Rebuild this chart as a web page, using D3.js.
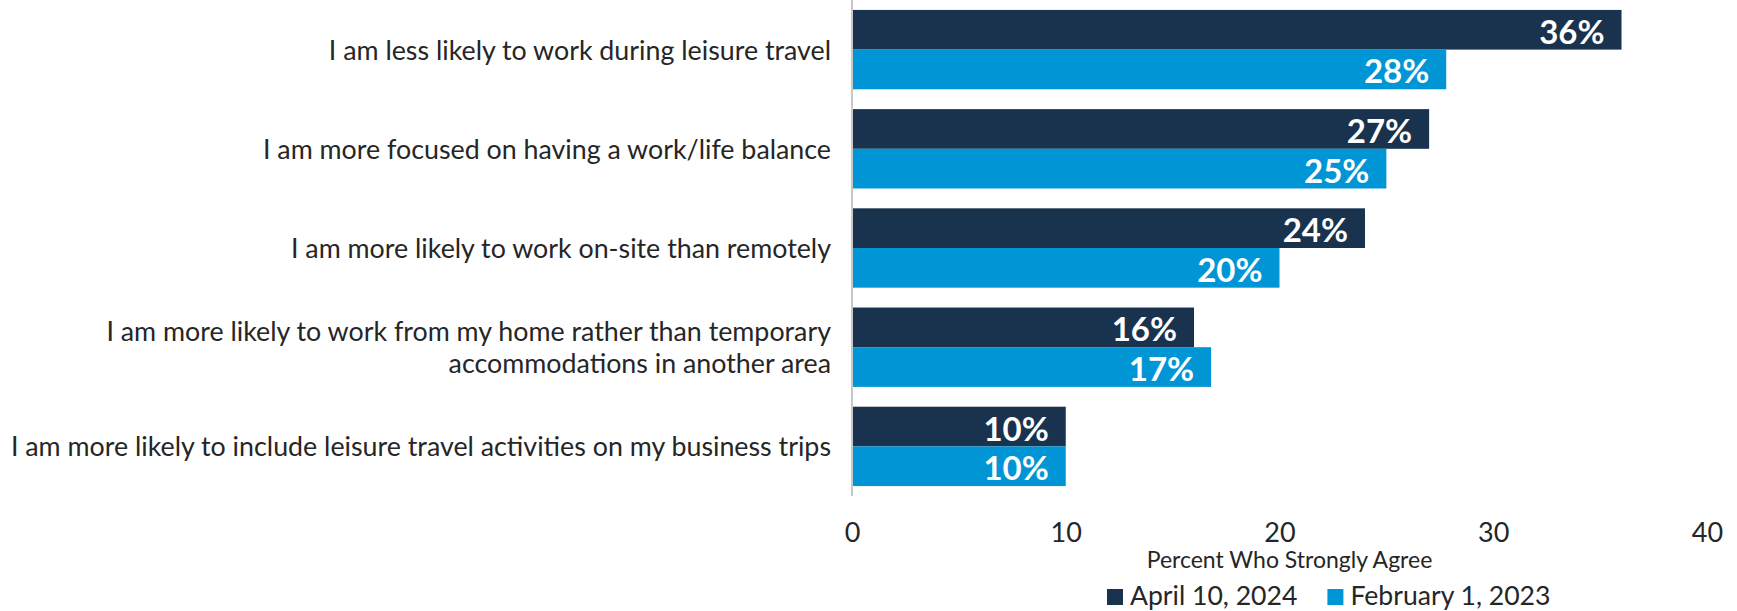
<!DOCTYPE html>
<html>
<head>
<meta charset="utf-8">
<script src="https://cdn.jsdelivr.net/npm/d3@7"></script>
<style>
  html, body { margin: 0; padding: 0; background: #fff; }
  svg { display: block; font-family: Lato, "Open Sans", sans-serif; }
</style>
</head>
<body>
<svg id="chart" width="1737" height="611"></svg>
<script>
// ---- data ----
const categories = [
  ["I am less likely to work during leisure travel"],
  ["I am more focused on having a work/life balance"],
  ["I am more likely to work on-site than remotely"],
  ["I am more likely to work from my home rather than temporary", "accommodations in another area"],
  ["I am more likely to include leisure travel activities on my business trips"]
];
const seriesNames = ["April 10, 2024", "February 1, 2023"];
const april2024 = [36, 27, 24, 16, 10];
const feb2023 = [27.8, 25, 20, 16.8, 10];
const xTicks = [0, 10, 20, 30, 40];
const axisTitle = "Percent Who Strongly Agree";
const colors = ["#19324e", "#0096d6"];

// ---- layout ----
const svg = d3.select("#chart");
const x = d3.scaleLinear().domain([0, 40]).range([852, 1707]);
const y = d3.scaleBand().domain(d3.range(categories.length)).range([0, 496])
  .paddingInner(0.2).paddingOuter(0.1);
const ySub = d3.scaleBand().domain([0, 1]).range([0, y.bandwidth()]);

const series = [april2024, feb2023];

// bars
series.forEach((vals, si) => {
  const g = svg.append("g");
  g.selectAll("rect").data(vals).join("rect")
    .attr("x", x(0))
    .attr("y", (d, i) => y(i) + ySub(si))
    .attr("width", d => x(d) - x(0))
    .attr("height", ySub.bandwidth())
    .attr("fill", colors[si]);
  g.selectAll("text").data(vals).join("text")
    .attr("x", d => x(d) - 17)
    .attr("y", (d, i) => y(i) + ySub(si) + ySub.bandwidth() / 2 + 1)
    .attr("text-anchor", "end")
    .attr("dominant-baseline", "central")
    .attr("fill", "#fff")
    .attr("font-weight", 700)
    .attr("font-size", 33)
    .text(d => d3.format(".0f")(d) + "%");
});

// vertical axis line
svg.append("line")
  .attr("x1", x(0)).attr("x2", x(0))
  .attr("y1", 0).attr("y2", 496)
  .attr("stroke", "#c8c8c8").attr("stroke-width", 2);

// category labels
const lineH = 32;
categories.forEach((lines, i) => {
  const cy = y(i) + y.bandwidth() / 2;
  const t = svg.append("text")
    .attr("text-anchor", "end")
    .attr("font-size", 26.8)
    .attr("fill", "#262626");
  lines.forEach((ln, j) => {
    t.append("tspan")
      .attr("x", 831)
      .attr("y", cy + (j - (lines.length - 1) / 2) * lineH)
      .attr("dominant-baseline", "central")
      .text(ln);
  });
});

// x axis ticks (no line)
const xAxis = d3.axisBottom(x).tickValues(xTicks).tickSize(0).tickPadding(0);
const ax = svg.append("g").call(xAxis);
ax.select(".domain").remove();
ax.selectAll("text")
  .attr("y", 542)
  .attr("dy", null)
  .attr("font-size", 27)
  .attr("font-family", "Lato, 'Open Sans', sans-serif")
  .attr("fill", "#262626");

// axis title
svg.append("text")
  .attr("x", (x.range()[0] + x.range()[1]) / 2 + 10)
  .attr("y", 568)
  .attr("text-anchor", "middle")
  .attr("font-size", 23)
  .attr("fill", "#262626")
  .text(axisTitle);

// legend
let lx = 1107;
seriesNames.forEach((name, i) => {
  svg.append("rect")
    .attr("x", lx).attr("y", 589)
    .attr("width", 16).attr("height", 16)
    .attr("fill", colors[i]);
  const t = svg.append("text")
    .attr("x", lx + 23).attr("y", 605)
    .attr("font-size", 26.6)
    .attr("fill", "#262626")
    .text(name);
  lx += 23 + t.node().getComputedTextLength() + 30;
});
</script>
</body>
</html>
